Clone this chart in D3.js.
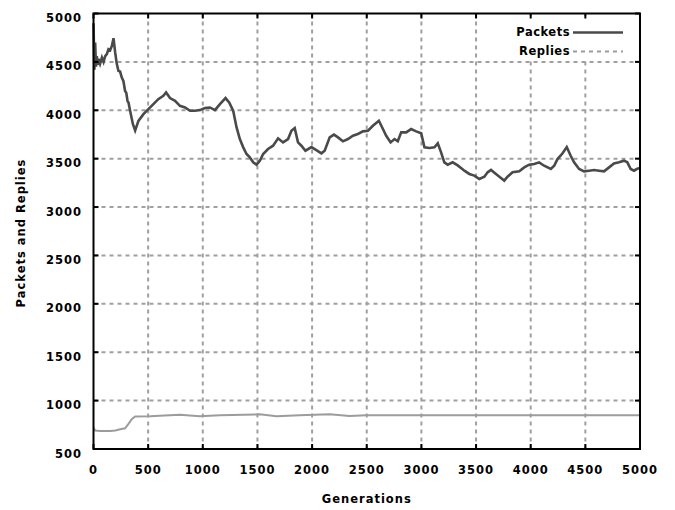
<!DOCTYPE html>
<html>
<head>
<meta charset="utf-8">
<script src="https://cdn.jsdelivr.net/npm/d3@7"></script>
<style>
  html, body { margin: 0; padding: 0; background: #fff; }
  svg { display: block; }
  text { font-family: "DejaVu Sans", sans-serif; font-weight: bold; font-size: 11.5px; fill: #000; }
</style>
</head>
<body>
<svg id="chart" width="675" height="510"></svg>
<script>
// Packets series: generation and value
const packetGen = [0, 8, 15, 23, 30, 38, 46, 60, 77, 92, 107, 122, 137, 152, 168, 183, 198, 213, 228, 243, 259, 274, 289, 300, 311, 320, 335, 360, 381, 411, 457, 502, 548, 593, 639, 664, 700, 746, 791, 837, 883, 928, 974, 1020, 1065, 1111, 1157, 1208, 1241, 1278, 1309, 1339, 1370, 1400, 1430, 1461, 1491, 1522, 1552, 1597, 1643, 1689, 1734, 1780, 1811, 1841, 1871, 1902, 1939, 1994, 2039, 2085, 2115, 2161, 2200, 2237, 2282, 2328, 2374, 2419, 2465, 2511, 2556, 2611, 2648, 2678, 2718, 2754, 2784, 2815, 2861, 2906, 2952, 2998, 3028, 3074, 3119, 3150, 3180, 3210, 3241, 3286, 3332, 3377, 3393, 3439, 3484, 3530, 3576, 3606, 3637, 3682, 3728, 3758, 3788, 3834, 3895, 3941, 3986, 4032, 4077, 4123, 4184, 4215, 4245, 4290, 4330, 4367, 4397, 4443, 4488, 4534, 4580, 4625, 4671, 4717, 4762, 4808, 4854, 4884, 4915, 4945, 4970, 5000];
const packetVal = [4900, 4420, 4700, 4450, 4560, 4470, 4530, 4480, 4545, 4500, 4560, 4580, 4630, 4620, 4665, 4745, 4600, 4480, 4407, 4400, 4338, 4300, 4200, 4180, 4098, 4080, 3995, 3858, 3790, 3890, 3960, 4012, 4064, 4115, 4150, 4184, 4126, 4098, 4046, 4029, 3995, 3995, 4002, 4023, 4029, 4002, 4064, 4126, 4080, 3995, 3823, 3703, 3617, 3548, 3513, 3462, 3438, 3479, 3548, 3600, 3634, 3710, 3668, 3703, 3789, 3816, 3668, 3634, 3582, 3620, 3589, 3555, 3582, 3720, 3748, 3720, 3679, 3703, 3737, 3755, 3782, 3789, 3840, 3892, 3806, 3737, 3668, 3703, 3680, 3772, 3772, 3806, 3782, 3762, 3617, 3610, 3617, 3658, 3565, 3462, 3438, 3462, 3430, 3390, 3376, 3342, 3325, 3290, 3314, 3359, 3383, 3342, 3300, 3273, 3314, 3359, 3369, 3410, 3438, 3445, 3462, 3427, 3393, 3427, 3496, 3553, 3620, 3527, 3462, 3393, 3369, 3376, 3383, 3376, 3369, 3410, 3451, 3462, 3479, 3462, 3393, 3376, 3393, 3405];

// Replies series: generation and value
const replyGen = [0, 15, 61, 152, 200, 244, 289, 320, 350, 381, 518, 650, 791, 974, 1157, 1522, 1674, 1887, 2161, 2343, 2495, 2700, 3000, 3500, 4000, 4500, 5000];
const replyVal = [720, 690, 686, 686, 692, 704, 714, 759, 807, 835, 838, 845, 855, 838, 850, 858, 838, 850, 858, 840, 850, 848, 848, 848, 848, 848, 848];

const xTicks = [0, 500, 1000, 1500, 2000, 2500, 3000, 3500, 4000, 4500, 5000];
const yTicks = [500, 1000, 1500, 2000, 2500, 3000, 3500, 4000, 4500, 5000];
const seriesNames = ["Packets", "Replies"];
const xTitle = "Generations";
const yTitle = "Packets and Replies";

const svg = d3.select("#chart");
const plotLeft = 93.5, plotRight = 640, plotTop = 13.5, plotBottom = 449;

const x = d3.scaleLinear().domain([0, 5000]).range([plotLeft, plotRight]);
const y = d3.scaleLinear().domain([500, 5000]).range([plotBottom, plotTop]);

const gridColor = "#a0a0a0";

// grid lines (inner ticks only)
svg.append("g").selectAll("line")
  .data(xTicks.slice(1, -1)).join("line")
  .attr("x1", d => x(d)).attr("x2", d => x(d))
  .attr("y1", plotTop).attr("y2", plotBottom)
  .attr("stroke", gridColor).attr("stroke-width", 2)
  .attr("stroke-dasharray", "4,4");
svg.append("g").selectAll("line")
  .data(yTicks.slice(1, -1)).join("line")
  .attr("x1", plotLeft).attr("x2", plotRight)
  .attr("y1", d => y(d)).attr("y2", d => y(d))
  .attr("stroke", gridColor).attr("stroke-width", 2)
  .attr("stroke-dasharray", "4,4");

// key area is kept clear of grid lines
svg.append("rect").attr("x", 500).attr("y", 16).attr("width", 130).attr("height", 42).attr("fill", "#fff");

// data lines
const line = d3.line().x(d => x(d[0])).y(d => y(d[1]));
svg.append("path")
  .datum(replyGen.map((g, i) => [g, replyVal[i]]))
  .attr("d", line).attr("fill", "none")
  .attr("stroke", "#9c9c9c").attr("stroke-width", 2);
svg.append("path")
  .datum(packetGen.map((g, i) => [g, packetVal[i]]))
  .attr("d", line).attr("fill", "none")
  .attr("stroke", "#4a4a4a").attr("stroke-width", 2.6)
  .attr("stroke-linejoin", "miter");

// frame
svg.append("rect").attr("x", plotLeft).attr("y", plotTop)
  .attr("width", plotRight - plotLeft).attr("height", plotBottom - plotTop)
  .attr("fill", "none").attr("stroke", "#000").attr("stroke-width", 2);

// inward ticks on all four sides
const tickLen = 5;
const tg = svg.append("g").attr("stroke", "#000").attr("stroke-width", 2);
xTicks.forEach(t => {
  tg.append("line").attr("x1", x(t)).attr("x2", x(t)).attr("y1", plotBottom).attr("y2", plotBottom - tickLen);
  tg.append("line").attr("x1", x(t)).attr("x2", x(t)).attr("y1", plotTop).attr("y2", plotTop + tickLen);
});
yTicks.forEach(t => {
  tg.append("line").attr("x1", plotLeft).attr("x2", plotLeft + tickLen).attr("y1", y(t)).attr("y2", y(t));
  tg.append("line").attr("x1", plotRight).attr("x2", plotRight - tickLen).attr("y1", y(t)).attr("y2", y(t));
});

// tick labels
svg.append("g").selectAll("text").data(xTicks).join("text")
  .attr("x", d => x(d)).attr("y", 474)
  .attr("text-anchor", "middle").attr("letter-spacing", "1px")
  .text(d => d);
svg.append("g").selectAll("text").data(yTicks).join("text")
  .attr("x", 82).attr("y", d => y(d) + 8.5)
  .attr("text-anchor", "end").attr("letter-spacing", "1px")
  .text(d => d);

// axis titles
svg.append("text").attr("x", (plotLeft + plotRight) / 2).attr("y", 503)
  .attr("text-anchor", "middle").attr("letter-spacing", "1px").text(xTitle);
svg.append("text").attr("transform", "translate(25,233) rotate(-90)")
  .attr("text-anchor", "middle").attr("letter-spacing", "1px").text(yTitle);

// key
const key = svg.append("g");
key.append("text").attr("x", 570).attr("y", 35.5).attr("text-anchor", "end").attr("letter-spacing", "0.5px").text(seriesNames[0]);
key.append("line").attr("x1", 573).attr("x2", 623).attr("y1", 32.5).attr("y2", 32.5)
  .attr("stroke", "#4a4a4a").attr("stroke-width", 2.6);
key.append("text").attr("x", 570).attr("y", 54.5).attr("text-anchor", "end").attr("letter-spacing", "0.5px").text(seriesNames[1]);
key.append("line").attr("x1", 573).attr("x2", 623).attr("y1", 51.5).attr("y2", 51.5)
  .attr("stroke", "#9c9c9c").attr("stroke-width", 2).attr("stroke-dasharray", "4,4");
</script>
</body>
</html>
